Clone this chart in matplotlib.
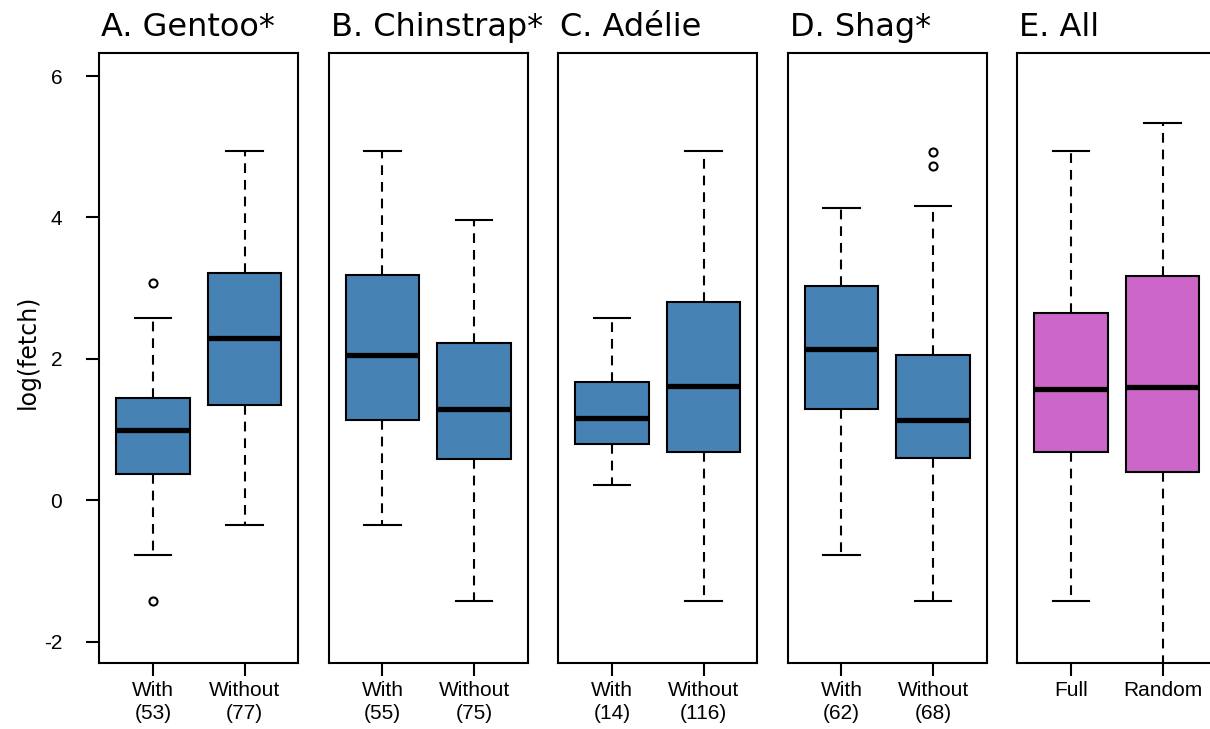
import matplotlib
matplotlib.use("Agg")
import matplotlib.pyplot as plt

plt.rcParams["axes.unicode_minus"] = False
plt.rcParams["lines.scale_dashes"] = False

# Panel titles and group labels
panel_titles = ["A. Gentoo*", "B. Chinstrap*", "C. Adélie", "D. Shag*", "E. All"]
group_names = [["With", "Without"]] * 4 + [["Full", "Random"]]
group_counts = [["53", "77"], ["55", "75"], ["14", "116"], ["62", "68"], [None, None]]
box_colors = ["#4682B4", "#4682B4", "#4682B4", "#4682B4", "#CC66C8"]

# Five-number summaries of log(fetch), one pair of groups per panel
whisker_low = [[-0.78, -0.345], [-0.345, -1.43], [0.22, -1.43], [-0.78, -1.43], [-1.43, -2.60]]
quartile_1 = [[0.37, 1.35], [1.13, 0.59], [0.80, 0.69], [1.29, 0.60], [0.69, 0.40]]
medians = [[0.99, 2.30], [2.05, 1.29], [1.16, 1.62], [2.135, 1.13], [1.57, 1.60]]
quartile_3 = [[1.44, 3.22], [3.19, 2.22], [1.68, 2.81], [3.035, 2.05], [2.65, 3.17]]
whisker_high = [[2.58, 4.94], [4.94, 3.96], [2.58, 4.94], [4.14, 4.16], [4.94, 5.33]]
outliers = [[[3.08, -1.42], []], [[], []], [[], []], [[], [4.93, 4.73]], [[], []]]

y_ticks = [-2, 0, 2, 4, 6]
y_limits = (-2.305, 6.33)

W, H = 1210, 729
fig = plt.figure(figsize=(W / 100, H / 100), dpi=100)

left0, step, width = 99.3, 229.5, 199.0
top_px, bottom_px = 52.7, 663.3

lw = 1.5
for i, title in enumerate(panel_titles):
    ax = fig.add_axes([(left0 + step * i) / W, 1 - bottom_px / H,
                       width / W, (bottom_px - top_px) / H])
    stats = []
    for j in range(2):
        stats.append(dict(whislo=whisker_low[i][j], q1=quartile_1[i][j],
                          med=medians[i][j], q3=quartile_3[i][j],
                          whishi=whisker_high[i][j], fliers=outliers[i][j]))
    ax.bxp(stats, positions=[1, 2], widths=0.8, capwidths=0.4, patch_artist=True,
           boxprops=dict(facecolor=box_colors[i], edgecolor="black", linewidth=lw),
           whiskerprops=dict(color="black", linewidth=lw, linestyle=(0, (7, 5))),
           capprops=dict(color="black", linewidth=lw),
           medianprops=dict(color="black", linewidth=3.8, solid_capstyle="butt"),
           flierprops=dict(marker="o", markersize=5.8, markerfacecolor="none",
                           markeredgecolor="black", markeredgewidth=1.5),
           manage_ticks=False)
    ax.set_xlim(0.415, 2.585)
    ax.set_ylim(*y_limits)
    for sp in ax.spines.values():
        sp.set_linewidth(lw)
        sp.set_color("black")

    labels = []
    for name, n in zip(group_names[i], group_counts[i]):
        labels.append(name if n is None else f"{name}\n({n})")
    ax.set_xticks([1, 2])
    ax.set_xticklabels(labels, fontfamily="Liberation Sans", fontsize=15,
                       linespacing=1.25)
    ax.tick_params(axis="x", direction="out", length=9.6, width=lw, pad=3.5)

    if i == 0:
        ax.set_yticks(y_ticks)
        ax.set_yticklabels([str(t) for t in y_ticks], fontfamily="Liberation Sans",
                           fontsize=15)
        ax.tick_params(axis="y", direction="out", length=9.6, width=lw, pad=17)
        ax.set_ylabel("log(fetch)", fontfamily="DejaVu Sans", fontsize=17)
        ax.yaxis.set_label_coords(-0.30, 0.51)
    else:
        ax.set_yticks([])

    ax.annotate(title, xy=(0, 1), xycoords="axes fraction", xytext=(1.5, 12),
                textcoords="offset points", ha="left", va="baseline",
                fontfamily="DejaVu Sans", fontsize=23)

fig.savefig("out.png", dpi=100)
